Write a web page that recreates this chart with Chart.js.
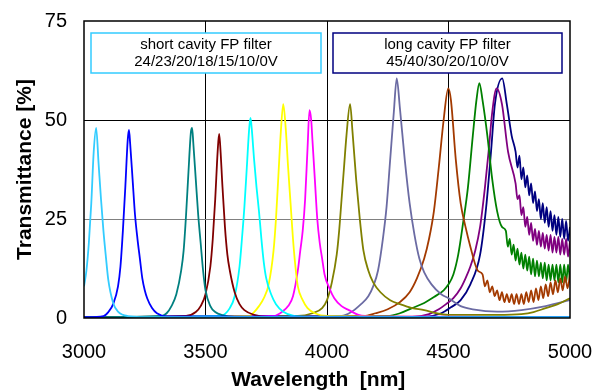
<!DOCTYPE html>
<html>
<head>
<meta charset="utf-8">
<script src="https://cdn.jsdelivr.net/npm/chart.js@4"></script>
<style>
  html, body { margin: 0; padding: 0; background: #fff; }
  #wrap { width: 602px; height: 391px; }
</style>
</head>
<body>
<div id="wrap"><canvas id="fp-chart" width="602" height="391"></canvas></div>
<script>
// axis ticks
const xTicks = [3000, 3500, 4000, 4500, 5000];
const yTicks = [0, 25, 50, 75];

// short cavity FP filter, 24/23/20/18/15/10/0V
const s24Wl = [3000, 3010, 3020, 3030, 3040, 3050, 3060, 3070, 3080, 3090, 3100, 3120, 3140, 3180, 3300, 5000];
const s24T = [8, 12, 19, 29, 42, 48, 39, 30, 22, 15.5, 9.6, 3.8, 1.6, 0.5, 0.2, 0.2];
const s23Wl = [3000, 3080, 3100, 3120, 3140, 3150, 3160, 3170, 3180, 3185, 3190, 3200, 3210, 3220, 3230, 3240, 3250, 3260, 3280, 3300, 3340, 5000];
const s23T = [0.2, 0.5, 1.5, 3.5, 8, 13, 22, 33, 45, 47.5, 44, 35, 26, 20, 15, 10, 7, 5, 2.5, 1.2, 0.4, 0.2];
const s20Wl = [3000, 3320, 3340, 3360, 3380, 3400, 3410, 3420, 3430, 3440, 3445, 3450, 3460, 3470, 3480, 3490, 3500, 3520, 3540, 3570, 3620, 5000];
const s20T = [0.2, 0.5, 1.2, 3, 6, 12, 17, 26, 37, 47, 48, 44, 35, 26, 19, 12, 7, 3, 1.5, 0.7, 0.3, 0.2];
const s18Wl = [3000, 3420, 3460, 3480, 3500, 3520, 3530, 3540, 3550, 3556, 3560, 3570, 3580, 3590, 3600, 3620, 3640, 3660, 3700, 3760, 5000];
const s18T = [0.2, 0.5, 1.5, 3, 6, 13, 20, 30, 42, 46.5, 44, 33, 23, 16, 12, 6.5, 3.5, 2, 0.8, 0.3, 0.2];
const s15Wl = [3000, 3560, 3600, 3620, 3640, 3650, 3660, 3670, 3680, 3685, 3690, 3700, 3710, 3720, 3730, 3740, 3750, 3770, 3790, 3820, 3860, 3920, 5000];
const s15T = [0.2, 0.5, 2.5, 5.5, 13, 20, 28, 38, 48, 50.5, 48, 40, 33, 27, 20, 14, 10, 6, 3.5, 1.6, 0.6, 0.3, 0.2];
const s10Wl = [3000, 3680, 3700, 3720, 3740, 3760, 3780, 3790, 3800, 3810, 3820, 3830, 3840, 3850, 3860, 3870, 3880, 3900, 3920, 3950, 4000, 5000];
const s10T = [0.2, 0.5, 1.5, 3, 5, 8.5, 17, 25, 36, 47, 54, 48, 38, 29, 20, 13, 8, 4.5, 2.5, 1.2, 0.5, 0.2];
const s0Wl = [3000, 3780, 3820, 3840, 3860, 3880, 3890, 3900, 3910, 3920, 3928, 3935, 3940, 3950, 3960, 3970, 3980, 3990, 4010, 4030, 4060, 4090, 4130, 4200, 5000];
const s0T = [0.2, 0.5, 1.8, 3, 5.5, 12, 17, 22, 30, 43, 52.5, 50, 45, 35, 25, 19, 15, 11, 7.5, 5, 3, 2, 0.8, 0.4, 0.2];

// long cavity FP filter, 45/40/30/20/10/0V (tails read as the fringe band, high/low)
const l45Wl = [3000, 3880, 3940, 3980, 4000, 4020, 4040, 4050, 4060, 4070, 4080, 4095, 4105, 4120, 4135, 4150, 4170, 4190, 4220, 4260, 4300, 4350, 4400, 4450, 4500, 4700, 4800, 4850, 4900, 4950, 5000];
const l45T = [0.2, 0.5, 1.2, 2.5, 4.5, 9, 16, 22, 30, 38, 46, 54, 47, 35, 25, 17, 12, 9, 6.5, 4.5, 3.5, 2.5, 2, 1.2, 0.8, 0.8, 1, 1.5, 2.5, 3.5, 5];
const l40Wl = [3000, 4060, 4100, 4140, 4170, 4190, 4210, 4230, 4245, 4260, 4275, 4287, 4300, 4320, 4340, 4360, 4380, 4400, 4430, 4470, 4500, 4550, 4600, 4700, 4800, 4900, 5000];
const l40T = [0.2, 0.5, 1.5, 3.5, 5.5, 8, 12, 20, 28, 40, 52, 60.5, 53, 40, 29, 21, 15, 11.5, 8.5, 6, 5, 3, 2.2, 1.6, 2, 3, 4.5];
const l30Wl = [3000, 4150, 4200, 4250, 4300, 4340, 4370, 4400, 4420, 4440, 4460, 4480, 4499, 4510, 4530, 4550, 4570, 4590, 4620,
  4640, 4650, 4660, 4670, 4680, 4690, 4700, 4710, 4720, 4730, 4740, 4750, 4760, 4770, 4780, 4790, 4800, 4810, 4820, 4830,
  4840, 4850, 4860, 4870, 4880, 4890, 4900, 4910, 4920, 4930, 4940, 4950, 4960, 4970, 4980, 4990, 5000];
const l30T = [0.2, 0.5, 1.2, 2.2, 4, 6.5, 10, 15, 20, 27, 38, 50, 58, 55, 40, 29, 23, 18, 12,
  11, 8, 9.5, 6.5, 8, 5.5, 7, 4.5, 6.5, 4, 6, 4, 6, 3.5, 6, 3.5, 6, 3.5, 6.5, 4,
  7, 4, 7.5, 4.5, 8, 5, 8.5, 5.5, 9, 6, 9.5, 6.5, 10, 7, 10.5, 7.5, 11];
const l20Wl = [3000, 4250, 4300, 4350, 4400, 4440, 4480, 4500, 4520, 4540, 4560, 4580, 4600, 4615, 4627, 4640, 4660, 4680, 4700, 4720,
  4736, 4744, 4752, 4760, 4768, 4776, 4784, 4792, 4800, 4808, 4816, 4824, 4832, 4840, 4848, 4856, 4864, 4872,
  4880, 4888, 4896, 4904, 4912, 4920, 4928, 4936, 4944, 4952, 4960, 4968, 4976, 4984, 4992, 5000];
const l20T = [0.2, 0.5, 1.2, 2.5, 3.8, 5.3, 7, 8.5, 11, 16, 24, 33, 46, 55, 59.3, 55, 46, 35, 27, 23,
  22, 18, 20, 16, 18.5, 14.5, 17.5, 13.5, 16.5, 12.5, 16, 12, 15.5, 11, 15, 10.5, 14.5, 10.5,
  14, 10, 14, 9.5, 13.5, 9.5, 13.5, 9.5, 13.5, 9, 13.5, 9, 13.5, 9, 13.5, 9];
const l10Wl = [3000, 4350, 4420, 4460, 4490, 4520, 4550, 4570, 4590, 4610, 4630, 4650, 4665, 4680, 4698, 4720, 4745,
  4776, 4784, 4792, 4800, 4808, 4816, 4824, 4832, 4840, 4848, 4856, 4864, 4872, 4880, 4888,
  4896, 4904, 4912, 4920, 4928, 4936, 4944, 4952, 4960, 4968, 4976, 4984, 4992, 5000];
const l10T = [0.2, 0.3, 1, 2.2, 3.5, 5, 7.5, 10, 13, 17, 23, 33, 42, 52, 58, 54, 42,
  34, 30, 31, 26, 28, 23, 25.5, 21, 24, 19.5, 22.5, 18.5, 22, 18, 21.5,
  17.5, 21, 17, 21, 16.5, 20.5, 16.5, 20.5, 16, 20, 16, 20, 15.5, 19.5];
const l0Wl = [3000, 4400, 4470, 4510, 4550, 4590, 4630, 4655, 4675, 4691, 4721, 4740, 4760,
  4776, 4784, 4792, 4800, 4808, 4816, 4824, 4832, 4840, 4848, 4856, 4864, 4872, 4880, 4888,
  4896, 4904, 4912, 4920, 4928, 4936, 4944, 4952, 4960, 4968, 4976, 4984, 4992, 5000];
const l0T = [0.2, 0.3, 1.2, 2.7, 4.5, 8.5, 16, 28, 42, 54, 60.5, 54, 46,
  42, 38, 41, 35, 38, 33, 36, 31, 34, 29, 32, 27, 30, 25, 29,
  24, 28, 23, 27, 22, 26, 21, 25.5, 20.5, 25, 20, 24.5, 19.5, 23];

const toPoints = (wl, t) => wl.map((w, i) => ({ x: w, y: t[i] }));

const series = [
  { label: '24V', wl: s24Wl, t: s24T, color: '#33CCFF' },
  { label: '23V', wl: s23Wl, t: s23T, color: '#0000FF' },
  { label: '20V', wl: s20Wl, t: s20T, color: '#008080' },
  { label: '18V', wl: s18Wl, t: s18T, color: '#800000' },
  { label: '15V', wl: s15Wl, t: s15T, color: '#00FFFF' },
  { label: '10V', wl: s10Wl, t: s10T, color: '#FFFF00' },
  { label: '0V', wl: s0Wl, t: s0T, color: '#FF00FF' },
  { label: '45V', wl: l45Wl, t: l45T, color: '#808000' },
  { label: '40V', wl: l40Wl, t: l40T, color: '#6B6BA3' },
  { label: '30V', wl: l30Wl, t: l30T, color: '#A33A00' },
  { label: '20V ', wl: l20Wl, t: l20T, color: '#008000' },
  { label: '10V ', wl: l10Wl, t: l10T, color: '#800080' },
  { label: '0V ', wl: l0Wl, t: l0T, color: '#000080' }
];

// scales ask for room for their end labels; the layout padding already gives it
const noScalePadding = scale => {
  scale.paddingLeft = 0;
  scale.paddingRight = 0;
  scale.paddingTop = 0;
  scale.paddingBottom = 0;
};

// frame round the plot area and the two text boxes
const framePlugin = {
  id: 'frame',
  afterDatasetsDraw(chart) {
    const { ctx, chartArea: a } = chart;
    ctx.save();
    ctx.strokeStyle = '#000';
    ctx.lineWidth = 1.5;
    ctx.strokeRect(a.left, a.top, a.right - a.left, a.bottom - a.top);

    const boxes = [
      { x: 91, y: 33, w: 230, h: 40, border: '#33CCFF', lines: ['short cavity FP filter', '24/23/20/18/15/10/0V'] },
      { x: 333, y: 33, w: 229, h: 40, border: '#000080', lines: ['long cavity FP filter', '45/40/30/20/10/0V'] }
    ];
    ctx.font = '15px "Liberation Sans", Arial, sans-serif';
    ctx.textAlign = 'center';
    ctx.textBaseline = 'middle';
    boxes.forEach(b => {
      ctx.fillStyle = '#fff';
      ctx.fillRect(b.x, b.y, b.w, b.h);
      ctx.strokeStyle = b.border;
      ctx.lineWidth = 1.5;
      ctx.strokeRect(b.x, b.y, b.w, b.h);
      ctx.fillStyle = '#000';
      ctx.fillText(b.lines[0], b.x + b.w / 2, b.y + 12);
      ctx.fillText(b.lines[1], b.x + b.w / 2, b.y + 29);
    });
    ctx.restore();
  }
};

new Chart(document.getElementById('fp-chart').getContext('2d'), {
  type: 'line',
  data: {
    datasets: series.map(s => ({
      label: s.label,
      data: toPoints(s.wl, s.t),
      borderColor: s.color,
      borderWidth: 1.8,
      pointRadius: 0,
      fill: false,
      cubicInterpolationMode: 'monotone'
    }))
  },
  options: {
    responsive: false,
    animation: false,
    layout: { autoPadding: false, padding: { left: 0, right: 32, top: 21, bottom: 0 } },
    plugins: { legend: { display: false }, tooltip: { enabled: false } },
    scales: {
      x: {
        type: 'linear',
        min: xTicks[0],
        max: xTicks[xTicks.length - 1],
        afterBuildTicks: scale => { scale.ticks = xTicks.map(v => ({ value: v })); },
        afterFit: scale => { scale.height = 73; noScalePadding(scale); },
        grid: {
          drawTicks: false,
          color: c => (c.tick && [3500, 4000, 4500].includes(c.tick.value)) ? '#000' : 'rgba(0,0,0,0)'
        },
        border: { display: false },
        ticks: {
          padding: 22,
          color: '#000',
          callback: v => String(v),
          font: { family: '"Liberation Sans", Arial, sans-serif', size: 20 }
        },
        title: {
          display: true,
          // trailing spaces nudge the centred title a little to the left, as in the original
          text: 'Wavelength  [nm]   ',
          color: '#000',
          padding: { top: 0, bottom: 0 },
          font: { family: '"Liberation Sans", Arial, sans-serif', size: 21, weight: 'bold', lineHeight: 1 }
        }
      },
      y: {
        min: yTicks[0],
        max: yTicks[yTicks.length - 1],
        afterBuildTicks: scale => { scale.ticks = yTicks.map(v => ({ value: v })); },
        afterFit: scale => { scale.width = 84; noScalePadding(scale); },
        grid: {
          drawTicks: false,
          color: c => {
            if (!c.tick) return 'rgba(0,0,0,0)';
            if (c.tick.value === 50) return '#000';
            if (c.tick.value === 25) return '#808080';
            return 'rgba(0,0,0,0)';
          }
        },
        border: { display: false },
        ticks: {
          padding: 17,
          color: '#000',
          callback: v => String(v),
          font: { family: '"Liberation Sans", Arial, sans-serif', size: 20 }
        },
        title: {
          display: true,
          text: 'Transmittance [%]',
          color: '#000',
          padding: { top: 14.5, bottom: 0 },
          font: { family: '"Liberation Sans", Arial, sans-serif', size: 21, weight: 'bold', lineHeight: 1 }
        }
      }
    }
  },
  plugins: [framePlugin]
});
</script>
</body>
</html>
